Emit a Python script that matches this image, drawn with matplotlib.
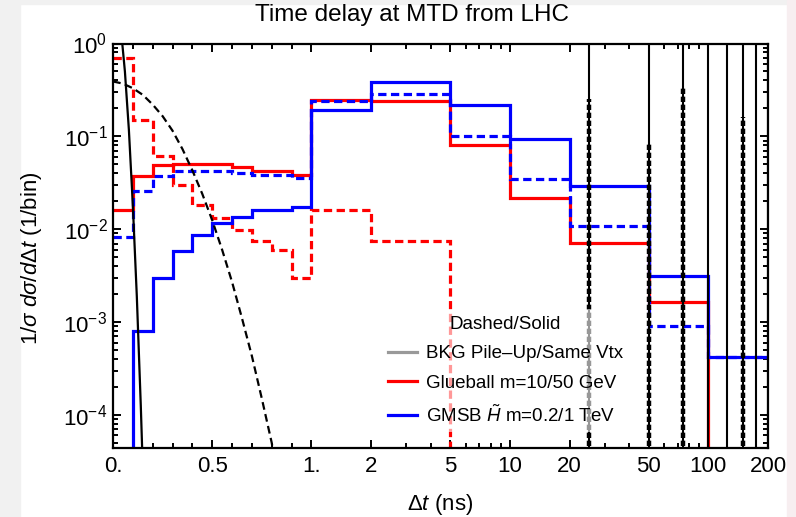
import numpy as np
import matplotlib
matplotlib.use("Agg")
import matplotlib.pyplot as plt
from matplotlib.patches import Rectangle
from matplotlib.lines import Line2D
from matplotlib.ticker import LogLocator, NullFormatter

plt.rcParams['font.family'] = ['Liberation Sans', 'DejaVu Sans']
plt.rcParams['mathtext.fontset'] = 'custom'
plt.rcParams['mathtext.rm'] = 'Liberation Sans'
plt.rcParams['mathtext.it'] = 'Liberation Sans:italic'
plt.rcParams['mathtext.bf'] = 'Liberation Sans:bold'

# -----------------------------
# Data
# -----------------------------
edges = [0.0, 0.1, 0.2, 0.3, 0.4, 0.5, 0.6, 0.7, 0.8, 0.9, 1.0,
         2, 5, 10, 20, 50, 100, 200]

glueball_10 = [0.69, 0.15, 0.061, 0.030, 0.018, 0.0132, 0.0099, 0.0074, 0.006, 0.003,
               0.0162, 0.0074, 0, 0, 0, 0, 0]
glueball_50 = [0.016, 0.037, 0.049, 0.051, 0.051, 0.051, 0.047, 0.042, 0.042, 0.038,
               0.247, 0.241, 0.081, 0.0216, 0.0071, 0.00165, 0]
gmsb_02 = [0.0082, 0.0255, 0.037, 0.042, 0.042, 0.042, 0.040, 0.038, 0.038, 0.0352,
           0.243, 0.284, 0.101, 0.0345, 0.0109, 0.0009, 0.00042]
gmsb_1 = [0, 0.0008, 0.003, 0.0058, 0.0087, 0.0118, 0.0135, 0.0162, 0.0162, 0.0175,
          0.193, 0.389, 0.218, 0.094, 0.029, 0.0031, 0.00042]

# pile-up (dashed) and same-vertex (solid) background curves
pu_t = [0.0, 0.05, 0.1, 0.15, 0.2, 0.25, 0.3, 0.35, 0.4, 0.45, 0.5,
        0.55, 0.6, 0.65, 0.7, 0.75, 0.8, 0.83]
pu_val = [0.39, 0.37, 0.33, 0.28, 0.22, 0.165, 0.115, 0.073, 0.043, 0.024, 0.0125,
          0.006, 0.0027, 0.0011, 0.00043, 0.00015, 0.00005, 0.00002]
sv_t = [0.0, 0.02, 0.04, 0.06, 0.08, 0.1, 0.12, 0.14, 0.16]
sv_val = [3.3, 2.65, 1.42, 0.5, 0.118, 0.018, 0.0019, 0.000127, 0.0000057]

bunch_crossings = [25, 50, 75, 100, 125, 150, 175, 200]
pu_spike_t = [25, 50, 75, 150]
pu_spike_top = [0.25, 0.085, 0.34, 0.16]

xtick_pos = [0, 0.5, 1, 2, 5, 10, 20, 50, 100, 200]
xtick_lab = ["0.", "0.5", "1.", "2", "5", "10", "20", "50", "100", "200"]
xminor = [0.1, 0.2, 0.3, 0.4, 0.6, 0.7, 0.8, 0.9, 3, 4, 6, 7, 8, 9,
          30, 40, 60, 70, 80, 90]


# linear on [0,1], log above 1
def fwd(x):
    x = np.asarray(x, dtype=float)
    return np.where(x <= 1, x, 1 + np.log10(np.maximum(x, 1)))


def inv(u):
    u = np.asarray(u, dtype=float)
    return np.where(u <= 1, u, 10 ** (np.minimum(u, 10) - 1))


fig = plt.figure(figsize=(7.96, 5.17), dpi=100)
# page edges from the screenshot
fig.patches.append(Rectangle((0, 0), 20 / 796, 1, transform=fig.transFigure,
                             color="#f1f1f1", zorder=-10))
fig.patches.append(Rectangle((0, 1 - 4 / 517), 1, 4 / 517, transform=fig.transFigure,
                             color="#f1f1f1", zorder=-10))
fig.patches.append(Rectangle((787 / 796, 0), 9 / 796, 1, transform=fig.transFigure,
                             color="#f7eef0", zorder=-10))

ax = fig.add_axes([113 / 796, 69 / 517, 655 / 796, 404.5 / 517])
ax.set_xscale('function', functions=(fwd, inv))
ax.set_yscale('log', nonpositive='clip')

lw = 2.3
dash = (0, (2.6, 1.4))
ax.stairs(glueball_10, edges, baseline=None, color="#ff0000", lw=lw, ls=dash, zorder=2)
ax.stairs(glueball_50, edges, baseline=None, color="#ff0000", lw=lw, zorder=2.1)
ax.stairs(gmsb_02, edges, baseline=None, color="#0000ff", lw=lw, ls=dash, zorder=2.2)
ax.stairs(gmsb_1, edges, baseline=None, color="#0000ff", lw=lw, zorder=2.3)

ax.plot(pu_t, pu_val, color="black", lw=1.6, ls=(0, (3.5, 2)), zorder=3)
ax.plot(sv_t, sv_val, color="black", lw=1.6, zorder=3)

for t in bunch_crossings:
    ax.axvline(t, color="black", lw=1.5, zorder=3)
ax.vlines(pu_spike_t, 1e-6, pu_spike_top, color="black", lw=3.2,
          linestyles=[(0, (1.2, 0.6))], zorder=3)

ax.set_xlim(0, 200)
ax.set_ylim(4.4e-5, 1)
ax.set_xticks(xtick_pos, xtick_lab)
ax.set_xticks(xminor, minor=True)
ax.yaxis.set_major_locator(LogLocator(base=10, numticks=10))
ax.yaxis.set_minor_locator(LogLocator(base=10, subs=np.arange(2, 10), numticks=20))
ax.yaxis.set_minor_formatter(NullFormatter())

ax.tick_params(which='both', direction='in', top=True, right=True, width=1.4)
ax.tick_params(which='major', length=6, labelsize=16)
ax.tick_params(axis='x', which='major', pad=6)
ax.tick_params(axis='y', which='major', pad=4)
ax.tick_params(which='minor', length=3.5)
for s in ax.spines.values():
    s.set_linewidth(1.6)

ax.set_xlabel(r"$\Delta t$ (ns)", fontsize=16)
ax.xaxis.set_label_coords(0.5, -0.108)
ax.set_ylabel(r"$1/\sigma\ d\sigma/d\Delta t$ (1/bin)", fontsize=16)
ax.yaxis.set_label_coords(-0.106, 0.47)

fig.text(412 / 796, 1 - 15 / 517, "Time delay at MTD from LHC", fontsize=17.5,
         ha="center", va="center")

handles = [Line2D([], [], color="#999999", lw=2.3),
           Line2D([], [], color="#ff0000", lw=2.3),
           Line2D([], [], color="#0000ff", lw=2.3)]
labels = ["BKG Pile\u2013Up/Same Vtx", "Glueball m=10/50 GeV",
          r"GMSB $\tilde{H}$ m=0.2/1 TeV"]
leg = ax.legend(handles, labels, title="Dashed/Solid", loc="upper left",
                bbox_to_anchor=(0.41, 0.343), borderaxespad=0, fontsize=13.5,
                title_fontsize=13.5, handlelength=1.55, handletextpad=0.45,
                labelspacing=0.66, borderpad=0.35, frameon=True, fancybox=False,
                framealpha=0.6)
leg.get_frame().set_edgecolor("none")
leg.get_frame().set_facecolor("white")

fig.savefig("out.png", dpi=100)
